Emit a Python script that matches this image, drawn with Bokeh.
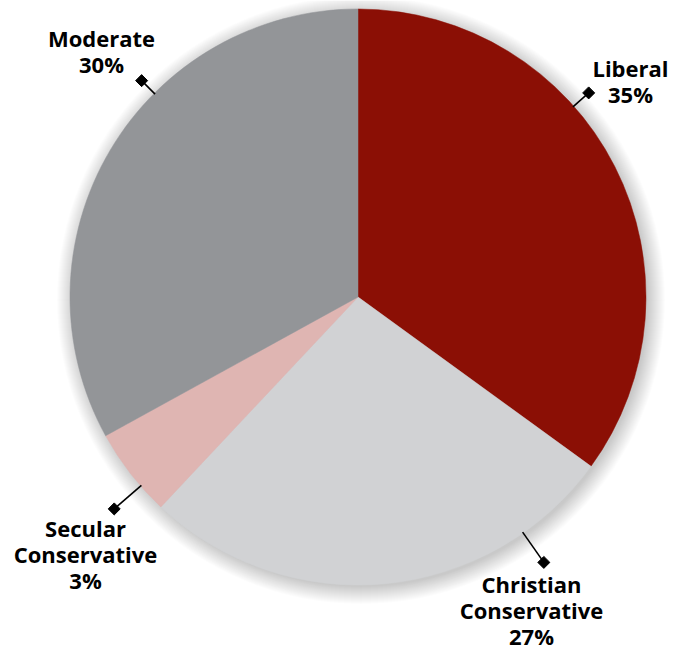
import numpy as np
from bokeh.plotting import figure
from bokeh.models import ColumnDataSource, Range1d
from bokeh.embed import file_html
from bokeh.resources import INLINE
from bokeh.core.properties import value

# ---- data ----
categories = ["Liberal", "Christian Conservative", "Secular Conservative", "Moderate"]
shares = [35, 27, 5, 33]                      # wedge sizes as drawn
label_pct = ["35%", "27%", "3%", "30%"]        # printed labels
colors = ["#8b0f05", "#d1d2d4", "#dfb5b2", "#939598"]

# ---- layout ----
W, H = 687, 649
CX, CY = 357.5, H - 296.5
R = 288
lab_xy = [(630, H - 80), (531, H - 609), (85, H - 553), (101, H - 50)]
LINE_H = 26.0
lead_ang = [41.5, -55.0, 221.0, 135.0]
lead_r_out = [308, 324, 323, 306]

p = figure(width=W, height=H, output_backend="svg", toolbar_location=None,
           x_range=Range1d(0, W), y_range=Range1d(0, H), min_border=0)
p.axis.visible = False
p.grid.visible = False
p.outline_line_color = None
p.background_fill_color = "white"
p.border_fill_color = "white"

# soft drop shadow
for i in range(18):
    p.circle(x=CX + 3, y=CY - 3, radius=R + 16 - i, fill_color="black",
             fill_alpha=0.013, line_color=None)

# wedges, clockwise from 12 o'clock
vals = np.array(shares, dtype=float)
frac = vals / vals.sum()
cum = np.concatenate([[0], np.cumsum(frac)])
ends = np.pi / 2 - 2 * np.pi * cum[:-1]
starts = np.pi / 2 - 2 * np.pi * cum[1:]
src = ColumnDataSource(dict(start=starts, end=ends, color=colors, cat=categories))
p.wedge(x=CX, y=CY, radius=R, start_angle="start", end_angle="end",
        direction="anticlock", fill_color="color", line_color="color",
        line_width=0.5, source=src)

# leader lines with diamond ends
a = np.radians(lead_ang)
x0 = CX + (R - 1) * np.cos(a)
y0 = CY + (R - 1) * np.sin(a)
x1 = CX + np.array(lead_r_out) * np.cos(a)
y1 = CY + np.array(lead_r_out) * np.sin(a)
p.segment(x0=x0, y0=y0, x1=x1, y1=y1, line_color="black", line_width=1.6)
p.scatter(x=x1, y=y1, marker="square", size=8.5, angle=np.pi / 4,
          fill_color="black", line_color="black")

# labels, one text per line
tx, ty, tt = [], [], []
for c, pc, (lx, ly) in zip(categories, label_pct, lab_xy):
    lines = c.split(" ") + [pc]
    n = len(lines)
    for k, s in enumerate(lines):
        tx.append(lx)
        ty.append(ly + ((n - 1) / 2 - k) * LINE_H)
        tt.append(s)
p.text(x=tx, y=ty, text=tt,
       text_font=value("Open Sans"), text_font_style="bold",
       text_font_size="22px", text_align="center", text_baseline="middle",
       text_color="black")

open("out.html", "w").write(file_html(p, INLINE))
